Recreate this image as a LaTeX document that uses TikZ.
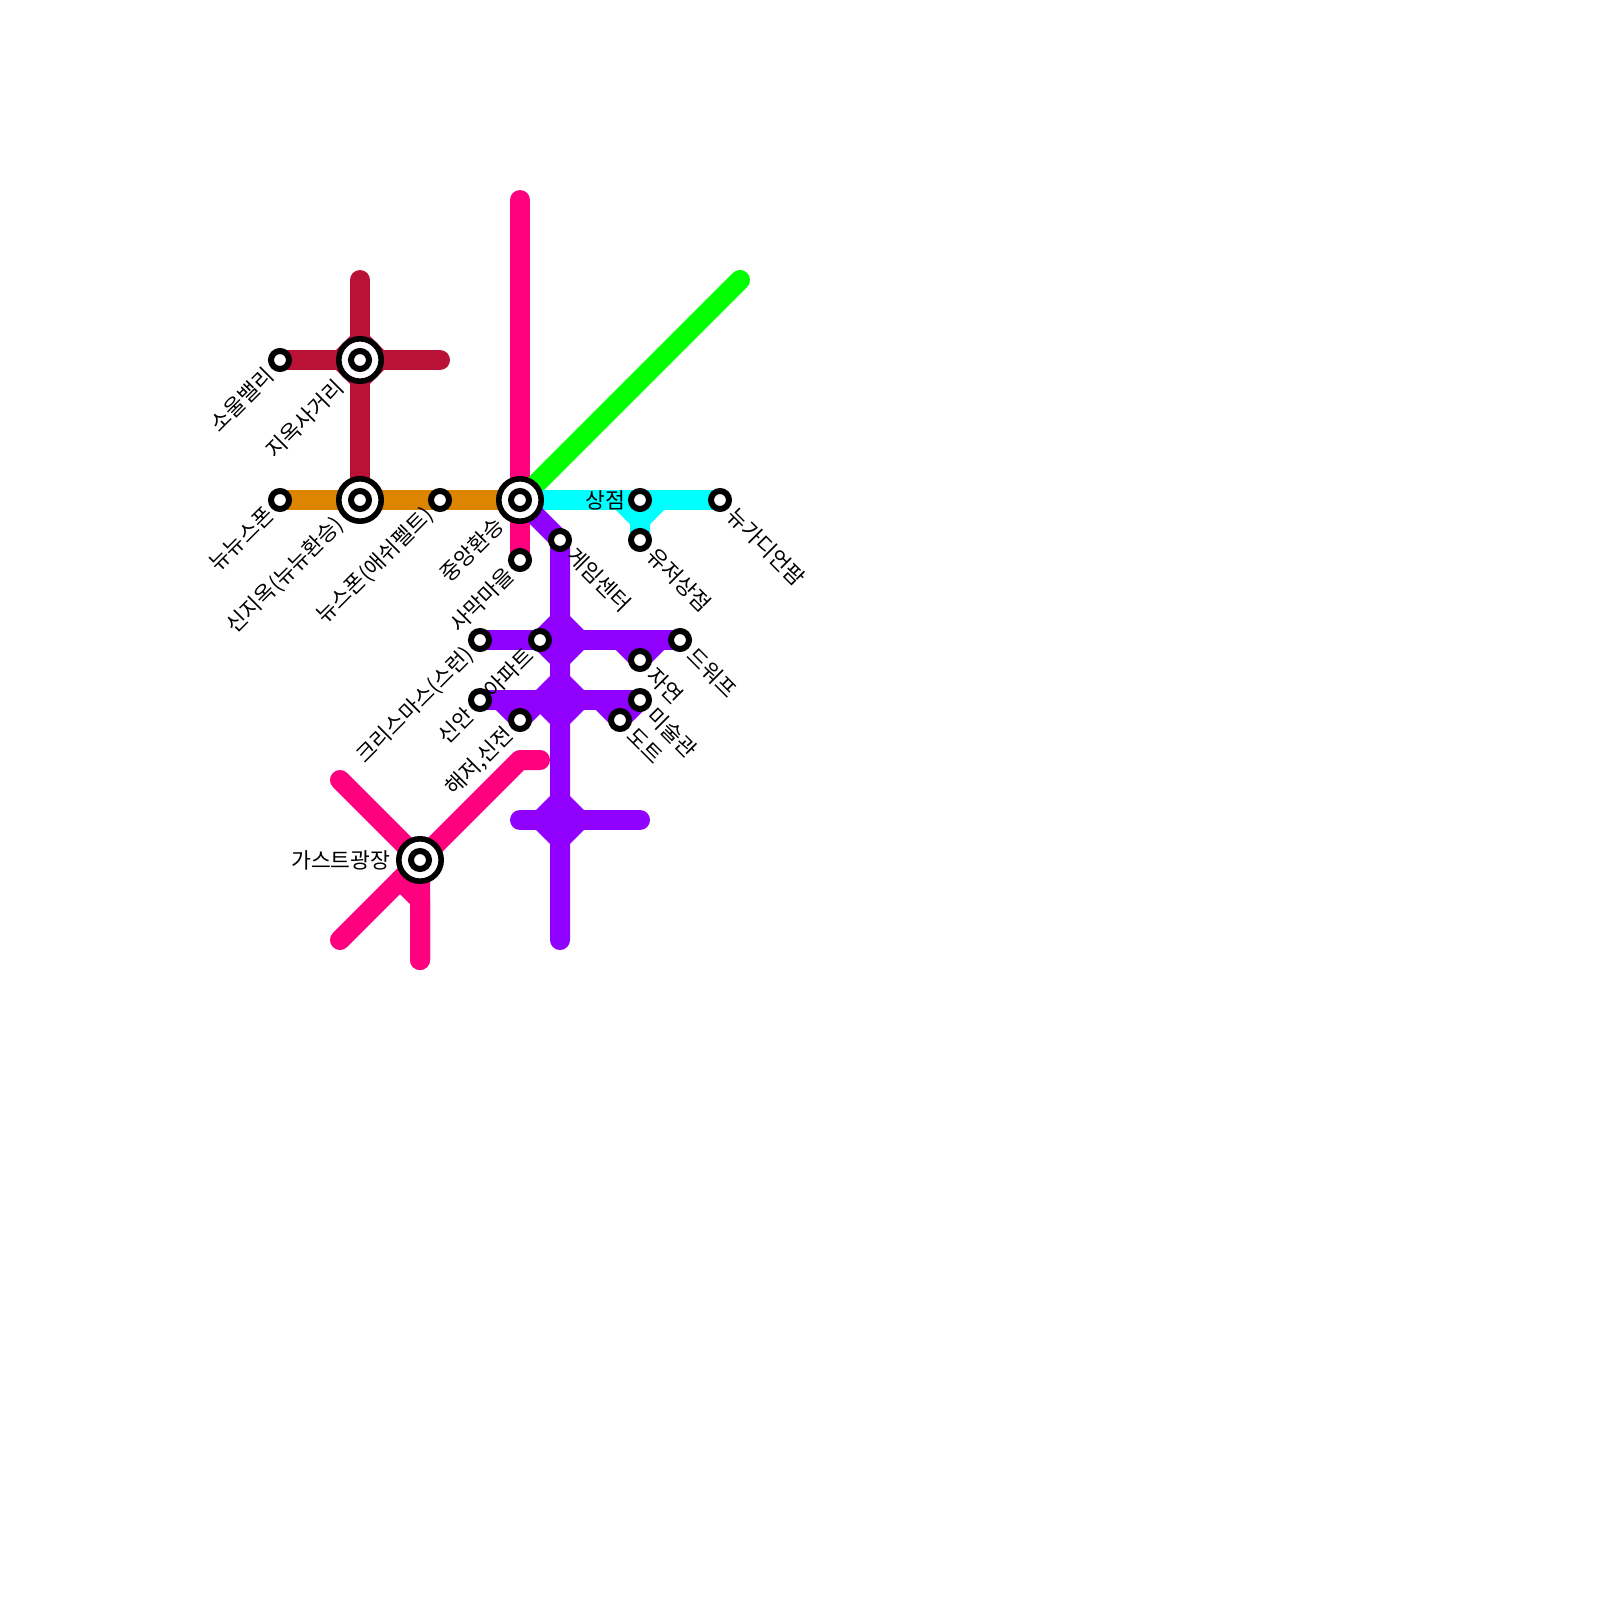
\documentclass[tikz,border=0pt]{standalone}
\usepackage{fontspec}
\setmainfont{Noto Sans CJK KR}
\usetikzlibrary{shapes.geometric, backgrounds}

\definecolor{lineA}{HTML}{FF007F}
\definecolor{lineB}{HTML}{BA1237}
\definecolor{lineC}{HTML}{DD8500}
\definecolor{lineD}{HTML}{00FFFF}
\definecolor{lineE}{HTML}{00FF00}
\definecolor{lineF}{HTML}{8F00FF}

\begin{document}
\begin{tikzpicture}[x=0.5pt, y=-0.5pt]
\tikzstyle{every node}=[font=\fontsize{10.8pt}{13pt}\selectfont, inner sep=0pt]
\tikzstyle{station}=[circle, draw=black, fill=white, line width=3pt, minimum size=9pt]
\tikzstyle{hub}=[circle, draw=black, fill=white, line width=2.8pt, minimum size=21.2pt]
\tikzstyle{junction}=[diamond, aspect=1, minimum size=34pt]
\tikzstyle{metro}=[line width=10pt, line cap=round, line join=round]
\tikzstyle{downleft}=[rotate=45, anchor=east]
\tikzstyle{downright}=[rotate=-45, anchor=west]
\useasboundingbox (0,0) rectangle (1600,1600);

% hubs
\node[hub] at (360,360) (HellRing) {};
\node[station] at (360,360) (Hell) {};
\node[hub] at (360,500) (NewHellRing) {};
\node[station] at (360,500) (NewHell) {};
\node[hub] at (520,500) (CenterRing) {};
\node[station] at (520,500) (Center) {};
\node[hub] at (420,860) (GasRing) {};
\node[station] at (420,860) (Gas) {};

% stations
\node[station] at (280,360) (Soul) {};
\node[station] at (280,500) (NewNew) {};
\node[station] at (440,500) (News) {};
\node[station] at (520,560) (Desert) {};
\node[station] at (560,540) (Game) {};
\node[station] at (640,500) (Shop) {};
\node[station] at (640,540) (UserShop) {};
\node[station] at (720,500) (Guardian) {};
\node[station] at (480,640) (Xmas) {};
\node[station] at (540,640) (Apt) {};
\node[station] at (680,640) (Dwarf) {};
\node[station] at (640,660) (Nature) {};
\node[station] at (480,700) (Sinan) {};
\node[station] at (520,720) (Temple) {};
\node[station] at (620,720) (Dot) {};
\node[station] at (640,700) (Art) {};

% free ends and bends
\coordinate (a1) at (520,200);
\coordinate (a2) at (340,780);
\coordinate (a3) at (520,760);
\coordinate (a4) at (540,760);
\coordinate (a5) at (340,940);
\coordinate (a6) at (400,880);
\coordinate (a7) at (420,900);
\coordinate (a8) at (420,960);
\coordinate (b1) at (360,280);
\coordinate (b2) at (440,360);
\coordinate (d1) at (620,500);
\coordinate (d2) at (660,500);
\coordinate (d3) at (640,520);
\coordinate (e1) at (740,280);
\coordinate (f1) at (560,940);
\coordinate (f2) at (520,820);
\coordinate (f3) at (640,820);
\coordinate (f4) at (620,640);
\coordinate (f5) at (660,640);
\coordinate (f6) at (500,700);
\coordinate (f7) at (540,700);
\coordinate (f8) at (600,700);

\begin{scope}[on background layer]
\node[junction, fill=lineB] at (360,360) (HellCross) {};
\node[junction, fill=lineF] at (560,640) (CrossA) {};
\node[junction, fill=lineF] at (560,700) (CrossB) {};
\node[junction, fill=lineF] at (560,820) (CrossC) {};

\draw[metro, lineC] (NewNew.center) -- (Center.center);
\draw[metro, lineA] (a1) -- (Desert.center);
\draw[metro, lineA] (a2) -- (Gas.center) -- (a3) -- (a4);
\draw[metro, lineA] (a5) -- (Gas.center) -- (a8);
\draw[metro, lineA] (a6) -- (a7) -- (a8);
\draw[metro, lineB] (b1) -- (NewHell.center);
\draw[metro, lineB] (Soul.center) -- (b2);
\draw[metro, lineE] (Center.center) -- (e1);
\draw[metro, lineD] (Center.center) -- (Guardian.center);
\draw[metro, lineD] (d1) -- (d3) -- (UserShop.center);
\draw[metro, lineD] (d2) -- (d3);
\draw[metro, lineF] (Center.center) -- (Game.center) -- (f1);
\draw[metro, lineF] (Xmas.center) -- (Dwarf.center);
\draw[metro, lineF] (f4) -- (Nature.center) -- (f5);
\draw[metro, lineF] (Sinan.center) -- (Art.center);
\draw[metro, lineF] (f6) -- (Temple.center) -- (f7);
\draw[metro, lineF] (f8) -- (Dot.center) -- (Art.center);
\draw[metro, lineF] (f2) -- (f3);
\end{scope}

% labels
\node[downleft] at (270,371) (SoulText) {소울밸리};
\node[downleft] at (340,383) (HellText) {지옥사거리};
\node[downleft] at (270,511) (NewNewText) {뉴뉴스폰};
\node[downleft] at (340,521) (NewHellText) {신지옥(뉴뉴환승)};
\node[downleft] at (430,511) (NewsText) {뉴스폰(애쉬펠트)};
\node[downleft] at (500,521) (CenterText) {중앙환승};
\node[downleft] at (510,571) (DesertText) {사막마을};
\node[downleft] at (470,651) (XmasText) {크리스마스(스런)};
\node[downleft] at (530,651) (AptText) {아파트};
\node[downleft] at (470,711) (SinanText) {신안};
\node[downleft] at (510,731) (TempleText) {해저,신전};
\node[downright] at (571,551) (GameText) {게임센터};
\node[downright] at (651,551) (UserShopText) {유저상점};
\node[downright] at (731,511) (GuardianText) {뉴가디언팜};
\node[downright] at (691,651) (DwarfText) {드워프};
\node[downright] at (651,671) (NatureText) {자연};
\node[downright] at (651,711) (ArtText) {미술관};
\node[downright] at (631,731) (DotText) {도트};
\node[anchor=east] at (626,500) (ShopText) {상점};
\node[anchor=east] at (391,860) (GasText) {가스트광장};
\end{tikzpicture}
\end{document}
